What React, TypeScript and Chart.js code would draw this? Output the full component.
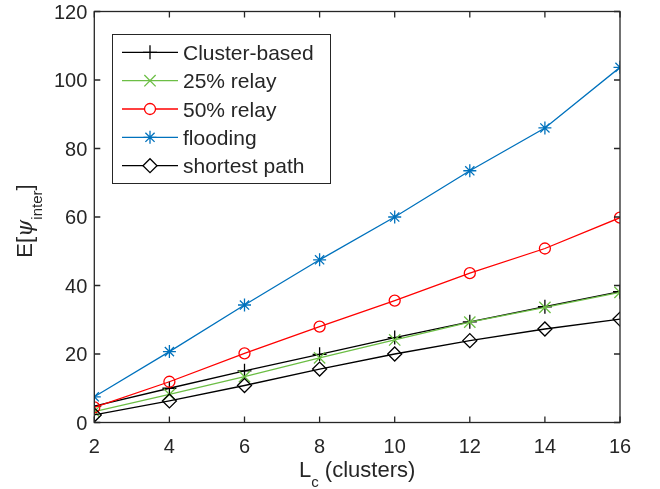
import React, { useEffect, useRef } from 'react';
import { Chart, registerables } from 'chart.js';
import { drawPoint } from 'chart.js/helpers';

Chart.register(...registerables);

const clusters = [2, 4, 6, 8, 10, 12, 14, 16];
const clusterBased = [4.8, 10.0, 15.1, 19.9, 24.8, 29.4, 33.8, 38.2];
const relay25 = [3.2, 8.2, 13.4, 18.9, 24.1, 29.3, 33.6, 38.0];
const relay50 = [4.4, 11.9, 20.2, 28.0, 35.6, 43.6, 50.8, 59.8];
const flooding = [7.5, 20.7, 34.3, 47.5, 60.0, 73.5, 86.0, 103.7];
const shortestPath = [2.2, 6.3, 10.8, 15.6, 20.0, 23.9, 27.3, 30.2];

const xTicks = [2, 4, 6, 8, 10, 12, 14, 16];
const yTicks = [0, 20, 40, 60, 80, 100, 120];

const seriesNames = ['Cluster-based', '25% relay', '50% relay', 'flooding', 'shortest path'];
const seriesValues = [clusterBased, relay25, relay50, flooding, shortestPath];
const seriesColors = ['#000000', '#6CBE45', '#FF0000', '#0072BD', '#000000'];
const seriesMarkers = ['cross', 'crossRot', 'circle', 'star', 'rectRot'];
const markerRadius = [7, 8, 5.5, 6.5, 7];

const FONT = '"Liberation Sans", Arial, Helvetica, sans-serif';
const AXIS = '#262626';

const overlay = {
  id: 'matlabOverlay',
  afterDraw(chart: any) {
    const ctx = chart.ctx;
    const { left, right, top, bottom } = chart.chartArea;
    const xs = chart.scales.x;
    const ys = chart.scales.y;
    ctx.save();
    // box
    ctx.strokeStyle = AXIS;
    ctx.lineWidth = 1.3;
    ctx.strokeRect(left, top, right - left, bottom - top);
    // ticks
    const tl = 6;
    ctx.beginPath();
    xTicks.forEach((v) => {
      const px = xs.getPixelForValue(v);
      ctx.moveTo(px, bottom);
      ctx.lineTo(px, bottom - tl);
      ctx.moveTo(px, top);
      ctx.lineTo(px, top + tl);
    });
    yTicks.forEach((v) => {
      const py = ys.getPixelForValue(v);
      ctx.moveTo(left, py);
      ctx.lineTo(left + tl, py);
      ctx.moveTo(right, py);
      ctx.lineTo(right - tl, py);
    });
    ctx.stroke();
    // tick labels
    ctx.fillStyle = AXIS;
    ctx.font = `20px ${FONT}`;
    ctx.textAlign = 'center';
    ctx.textBaseline = 'alphabetic';
    xTicks.forEach((v) => {
      ctx.fillText(String(v), xs.getPixelForValue(v), 453);
    });
    ctx.textAlign = 'right';
    yTicks.forEach((v) => {
      ctx.fillText(String(v), left - 7, ys.getPixelForValue(v) + 7);
    });

    // x title: L_c (clusters)
    const drawRich = (parts: { t: string; f: string; dy: number }[], cx: number, cy: number) => {
      let total = 0;
      parts.forEach((p) => {
        ctx.font = p.f;
        total += ctx.measureText(p.t).width;
      });
      let x = cx - total / 2;
      ctx.textAlign = 'left';
      parts.forEach((p) => {
        ctx.font = p.f;
        ctx.fillText(p.t, x, cy + p.dy);
        x += ctx.measureText(p.t).width;
      });
    };
    drawRich(
      [
        { t: 'L', f: `22px ${FONT}`, dy: 0 },
        { t: 'c', f: `15px ${FONT}`, dy: 10 },
        { t: ' (clusters)', f: `22px ${FONT}`, dy: 0 },
      ],
      (left + right) / 2,
      477
    );
    // y title: E[psi_inter]
    ctx.save();
    ctx.translate(32, 221);
    ctx.rotate(-Math.PI / 2);
    drawRich(
      [
        { t: 'E[', f: `22px ${FONT}`, dy: 0 },
        { t: 'ψ', f: `italic 22px "DejaVu Serif", serif`, dy: 0 },
        { t: 'inter', f: `15px ${FONT}`, dy: 10 },
        { t: ']', f: `22px ${FONT}`, dy: 0 },
      ],
      0,
      0
    );
    ctx.restore();

    // legend
    const bx = 112, by = 34, bw = 218, bh = 149;
    ctx.fillStyle = '#ffffff';
    ctx.fillRect(bx, by, bw, bh);
    ctx.strokeStyle = AXIS;
    ctx.lineWidth = 1;
    ctx.strokeRect(bx + 0.5, by + 0.5, bw, bh);
    const rowY = [52.3, 80.7, 109, 137.3, 165.7];
    seriesNames.forEach((name, i) => {
      const y = rowY[i];
      ctx.strokeStyle = seriesColors[i];
      ctx.lineWidth = 1.3;
      ctx.beginPath();
      ctx.moveTo(122, y);
      ctx.lineTo(178, y);
      ctx.stroke();
      ctx.fillStyle = '#ffffff';
      drawPoint(ctx, { pointStyle: seriesMarkers[i], radius: markerRadius[i], rotation: 0, borderWidth: 1.3 } as any, 150, y);
      if (seriesMarkers[i] === 'circle' || seriesMarkers[i] === 'rectRot') {
        // drawPoint fills with current fillStyle; redraw stroke handled by helper
      }
      ctx.fillStyle = AXIS;
      ctx.font = `21px ${FONT}`;
      ctx.textAlign = 'left';
      ctx.textBaseline = 'alphabetic';
      ctx.fillText(name, 183, y + 7.5);
    });
    ctx.restore();
  },
};

export default function App() {
  const ref = useRef<HTMLCanvasElement | null>(null);
  useEffect(() => {
    if (!ref.current) return;
    const datasets = seriesNames.map((name, i) => ({
      label: name,
      data: clusters.map((c, j) => ({ x: c, y: seriesValues[i][j] })),
      borderColor: seriesColors[i],
      backgroundColor: 'rgba(0,0,0,0)',
      borderWidth: 1.3,
      pointStyle: seriesMarkers[i],
      pointRadius: markerRadius[i],
      pointBorderWidth: 1.3,
      pointBorderColor: seriesColors[i],
      pointBackgroundColor: 'rgba(0,0,0,0)',
      tension: 0,
      order: -i,
    }));
    const chart = new Chart(ref.current, {
      type: 'line',
      data: { datasets },
      plugins: [overlay],
      options: {
        animation: false,
        responsive: false,
        devicePixelRatio: 1,
        layout: { padding: { top: 11.5, right: 40, left: 0, bottom: 0 } },
        plugins: { legend: { display: false }, tooltip: { enabled: false }, title: { display: false } },
        scales: {
          x: {
            type: 'linear',
            min: 2,
            max: 16,
            grid: { display: false, drawTicks: false },
            border: { display: false },
            ticks: { display: false, stepSize: 2 },
            afterFit: (s: any) => {
              s.height = 66.5;
            },
          },
          y: {
            type: 'linear',
            min: 0,
            max: 120,
            grid: { display: false, drawTicks: false },
            border: { display: false },
            ticks: { display: false, stepSize: 20 },
            afterFit: (s: any) => {
              s.width = 94.3;
            },
          },
        },
      } as any,
    });
    return () => chart.destroy();
  }, []);
  return (
    <div style={{ position: 'fixed', left: 0, top: 0, width: 660, height: 489, background: '#fff' }}>
      <canvas ref={ref} width={660} height={489} style={{ width: 660, height: 489, display: 'block' }} />
    </div>
  );
}
